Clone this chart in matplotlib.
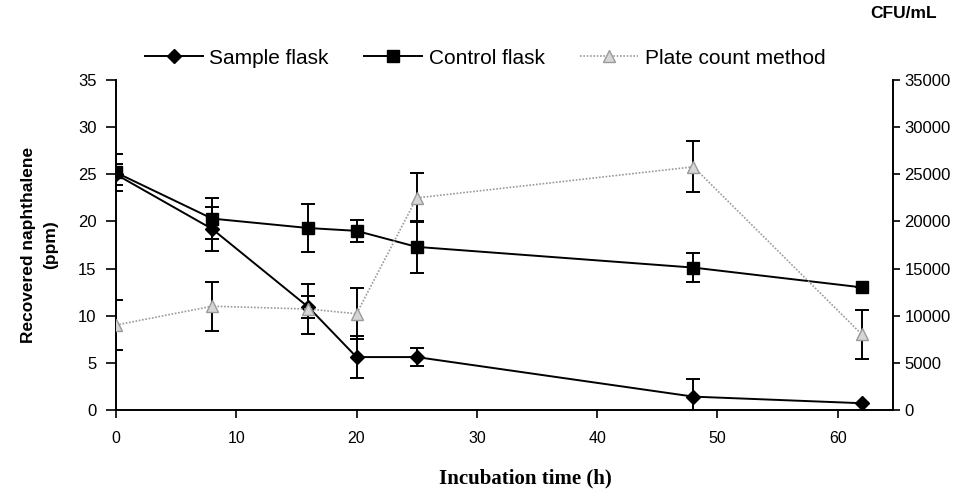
import matplotlib
matplotlib.use('Agg')
import matplotlib.pyplot as plt
from matplotlib.lines import Line2D

# incubation time (h)
time = [0, 8, 16, 20, 25, 48, 62]

# recovered naphthalene (ppm)
sample = [25.0, 19.2, 10.9, 5.6, 5.6, 1.4, 0.7]
sample_err = [1.1, 2.3, 1.2, 2.2, 1.0, 1.9, 0]
control = [25.2, 20.3, 19.3, 19.0, 17.3, 15.1, 13.0]
control_err = [2.0, 2.2, 2.5, 1.2, 2.8, 1.5, 0]

# plate count (CFU/mL)
plate = [9000, 11000, 10700, 10200, 22500, 25800, 8000]
plate_err = [2650, 2600, 2700, 2700, 2600, 2700, 2600]

x_ticks = [0, 10, 20, 30, 40, 50, 60]
left_ticks = [0, 5, 10, 15, 20, 25, 30, 35]
right_ticks = [0, 5000, 10000, 15000, 20000, 25000, 30000, 35000]

plt.rcParams['font.family'] = ['Liberation Sans', 'DejaVu Sans']

fig = plt.figure(figsize=(9.74, 5.01), dpi=100)
fig.patch.set_facecolor('white')
ax = fig.add_axes([0.119, 0.182, 0.798, 0.658])
ax2 = ax.twinx()

err_kw = dict(ecolor='black', elinewidth=1.4, capsize=5, capthick=1.4)
sample_style = dict(color='black', lw=1.4, marker='D', ms=7,
                    mfc='black', mec='black')
control_style = dict(color='black', lw=1.4, marker='s', ms=8,
                     mfc='black', mec='black')
plate_style = dict(color='#9a9a9a', lw=1.2, ls=(0, (1, 1)), marker='^',
                   ms=9, mfc='#d6d6d6', mec='#9a9a9a')

ax.errorbar(time, sample, yerr=sample_err, **sample_style, **err_kw)
ax.errorbar(time, control, yerr=control_err, **control_style, **err_kw)
ax2.errorbar(time, plate, yerr=plate_err, **plate_style, **err_kw)

ax.set_xlim(0, 64.6)
ax.set_ylim(0, 35)
ax2.set_ylim(0, 35000)
ax.set_xticks(x_ticks)
ax.set_yticks(left_ticks)
ax2.set_yticks(right_ticks)

for a in (ax, ax2):
    a.spines['top'].set_visible(False)
ax.spines['right'].set_visible(False)
ax2.spines['left'].set_visible(False)
ax2.spines['bottom'].set_visible(False)
for s in ('left', 'bottom'):
    ax.spines[s].set_linewidth(1.4)
ax2.spines['right'].set_linewidth(1.4)

ax.tick_params(axis='x', length=6, width=1.2, pad=9, labelsize=11.5)
ax.tick_params(axis='y', length=7, width=1.2, pad=7, labelsize=12)
ax2.tick_params(axis='y', length=5, width=1.2, pad=3, labelsize=12)

ax.set_ylabel('Recovered naphthalene\n(ppm)', fontsize=12.5,
              fontweight='bold', labelpad=14, linespacing=1.6)
fig.text(525 / 974, 1 - 478 / 501, 'Incubation time (h)',
         family='Liberation Serif', fontweight='bold', fontsize=15,
         ha='center', va='center')
fig.text(904 / 974, 1 - 14 / 501, 'CFU/mL', fontweight='bold',
         fontsize=12.5, ha='center', va='center')

handles = [Line2D([], [], **sample_style),
           Line2D([], [], **control_style),
           Line2D([], [], **plate_style)]
labels = ['Sample flask', 'Control flask', 'Plate count method']
fig.legend(handles, labels, loc='center',
           bbox_to_anchor=(485 / 974, 1 - 58 / 501), ncol=3,
           frameon=False, fontsize=15, handlelength=2.8,
           columnspacing=1.7, handletextpad=0.3)

fig.savefig('out.png', dpi=100, facecolor='white')
